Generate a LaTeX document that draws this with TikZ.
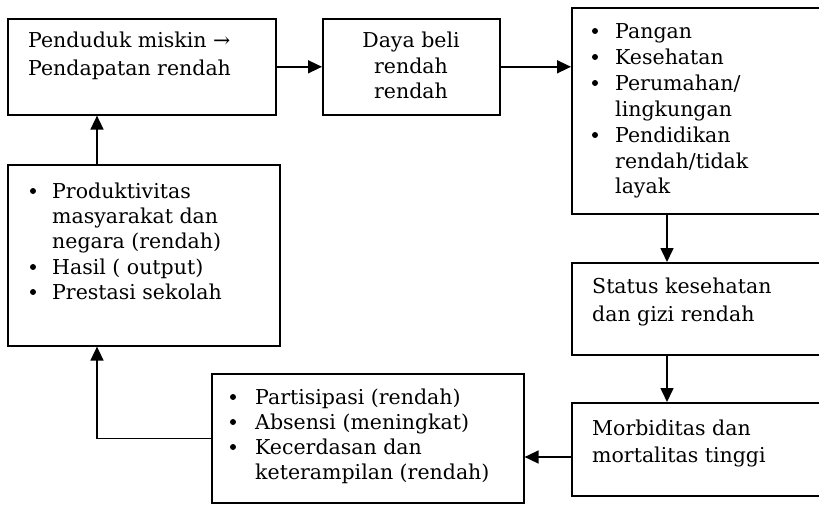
\documentclass[tikz,border=0pt]{standalone}
\usepackage{fontspec}
\setmainfont{DejaVu Serif}
\usetikzlibrary{arrows.meta}
\begin{document}
\begin{tikzpicture}[x=1pt,y=-1pt,
  box/.style={draw,line width=1.6pt,rectangle,inner sep=0pt,anchor=north west},
  txt/.style={anchor=base west,inner sep=0pt,font=\fontsize{20.5}{26}\selectfont},
  ctxt/.style={anchor=base,inner sep=0pt,font=\fontsize{20.5}{26}\selectfont},
  bul/.style={circle,fill,inner sep=0pt,minimum size=6pt},
  arr/.style={line width=1.6pt,-{Triangle[length=14pt,width=13pt]}}]
\useasboundingbox (0,0) rectangle (819,504);
% boxes
\node[box,minimum width=268pt,minimum height=96pt] (A) at (7,18) {};
\node[box,minimum width=177pt,minimum height=96pt] (B) at (322,18) {};
\node[box,minimum width=262pt,minimum height=206pt] (C) at (571,7) {};
\node[box,minimum width=262pt,minimum height=92pt] (D) at (571,262) {};
\node[box,minimum width=262pt,minimum height=93pt] (E) at (571,402) {};
\node[box,minimum width=272pt,minimum height=181pt] (G) at (7,164) {};
\node[box,minimum width=312pt,minimum height=129pt] (F) at (211,373) {};
% texts A
\node[txt] (a1) at (28,47) {Penduduk miskin →};
\node[txt] (a2) at (28,75) {Pendapatan rendah};
% texts B
\node[ctxt] (b1) at (411,47) {Daya beli};
\node[ctxt] (b2) at (411,73) {rendah};
\node[ctxt] (b3) at (411,98) {rendah};
% texts C
\node[bul] (cb1) at (595,31) {};
\node[bul] (cb2) at (595,57) {};
\node[bul] (cb3) at (595,83) {};
\node[bul] (cb4) at (595,135) {};
\node[txt] (c1) at (615,38) {Pangan};
\node[txt] (c2) at (615,64) {Kesehatan};
\node[txt] (c3) at (615,90) {Perumahan/};
\node[txt] (c4) at (615,116) {lingkungan};
\node[txt] (c5) at (615,142) {Pendidikan};
\node[txt] (c6) at (615,168) {rendah/tidak};
\node[txt] (c7) at (615,193) {layak};
% texts D, E
\node[txt] (d1) at (592,293) {Status kesehatan};
\node[txt] (d2) at (592,321) {dan gizi rendah};
\node[txt] (e1) at (592,435) {Morbiditas dan};
\node[txt] (e2) at (592,462) {mortalitas tinggi};
% texts G
\node[bul] (gb1) at (33,191) {};
\node[bul] (gb2) at (33,267) {};
\node[bul] (gb3) at (33,292) {};
\node[txt] (g1) at (52,198) {Produktivitas};
\node[txt] (g2) at (52,223) {masyarakat dan};
\node[txt] (g3) at (52,248) {negara (rendah)};
\node[txt] (g4) at (52,274) {Hasil ( output)};
\node[txt] (g5) at (52,299) {Prestasi sekolah};
% texts F
\node[bul] (fb1) at (233,397) {};
\node[bul] (fb2) at (233,422) {};
\node[bul] (fb3) at (233,447) {};
\node[txt] (f1) at (255,404) {Partisipasi (rendah)};
\node[txt] (f2) at (255,429) {Absensi (meningkat)};
\node[txt] (f3) at (255,454) {Kecerdasan dan};
\node[txt] (f4) at (255,479) {keterampilan (rendah)};
% helper coordinates
\coordinate (xl) at (97,0);
\coordinate (xr) at (667,0);
\coordinate (ye) at (0,457);
% connectors
\draw[arr] (A.east) -- (B.west);
\draw[arr] (B.east) -- (C.west |- B.east);
\draw[arr] (C.south -| xr) -- (D.north -| xr);
\draw[arr] (D.south -| xr) -- (E.north -| xr);
\draw[arr] (E.west |- ye) -- (F.east |- ye);
\draw[arr] (F.west) -| (G.south -| xl);
\draw[arr] (G.north -| xl) -- (A.south -| xl);
\end{tikzpicture}
\end{document}
